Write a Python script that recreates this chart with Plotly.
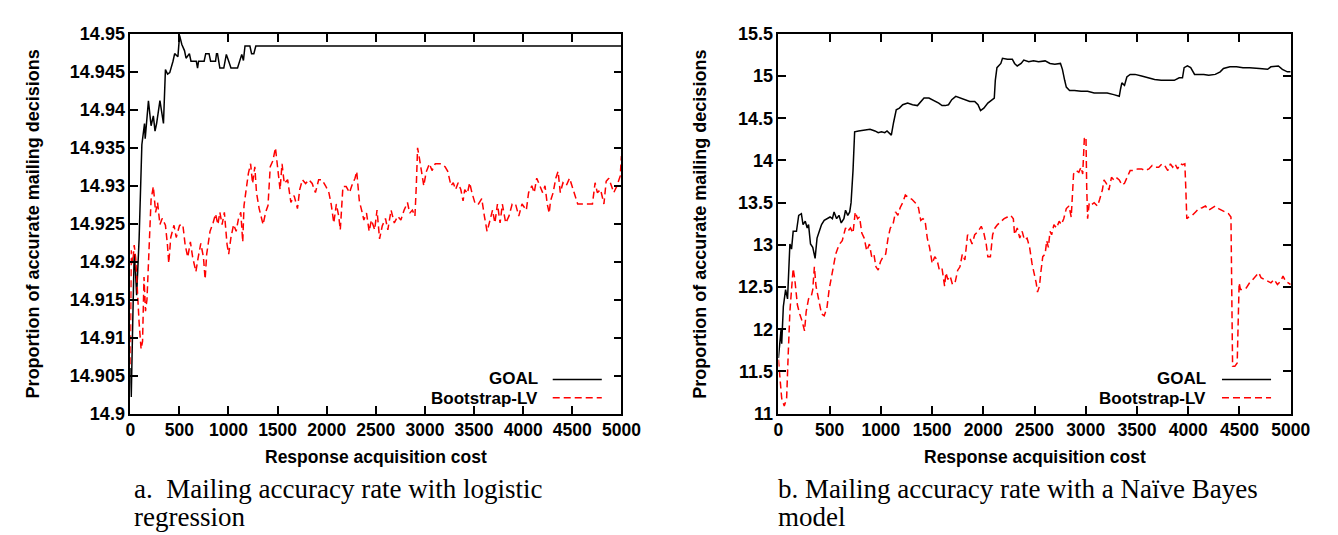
import plotly.graph_objects as go

# ---------------- data ----------------
x_ticks = [0, 500, 1000, 1500, 2000, 2500, 3000, 3500, 4000, 4500, 5000]
x_tick_labels = [str(v) for v in x_ticks]
ya_ticks = [14.9, 14.905, 14.91, 14.915, 14.92, 14.925, 14.93, 14.935, 14.94, 14.945, 14.95]
ya_tick_labels = ["14.9", "14.905", "14.91", "14.915", "14.92", "14.925", "14.93", "14.935", "14.94", "14.945", "14.95"]
yb_ticks = [11, 11.5, 12, 12.5, 13, 13.5, 14, 14.5, 15, 15.5]
yb_tick_labels = ["11", "11.5", "12", "12.5", "13", "13.5", "14", "14.5", "15", "15.5"]

series_names = ["GOAL", "Bootstrap-LV"]
x_title = "Response acquisition cost"
y_title = "Proportion of accurate mailing decisions"
caption_a = ["a.\u00a0 Mailing accuracy rate with logistic", "regression"]
caption_b = ["b. Mailing accuracy rate with a Naïve Bayes", "model"]

goal_a = [(0, 14.906), (10, 14.9022), (25, 14.912), (40, 14.921), (52, 14.919), (65, 14.9156),
          (90, 14.923), (118, 14.9354), (145, 14.9382), (152, 14.9362), (185, 14.9412), (212, 14.9379),
          (235, 14.9392), (252, 14.9372), (268, 14.9382), (302, 14.9412), (338, 14.9382), (350, 14.944),
          (358, 14.9453), (380, 14.9447), (402, 14.9449), (435, 14.9464), (452, 14.9474), (485, 14.947),
          (502, 14.9498), (525, 14.9486), (552, 14.9478), (568, 14.9468), (602, 14.9474), (618, 14.9464),
          (672, 14.9464), (685, 14.9455), (695, 14.9464), (752, 14.9464), (768, 14.9474), (802, 14.9474),
          (818, 14.9464), (868, 14.9464), (878, 14.9474), (888, 14.9474), (898, 14.9464), (912, 14.9455),
          (952, 14.9455), (978, 14.9473), (1002, 14.9464), (1025, 14.9455), (1092, 14.9455), (1112, 14.9464),
          (1135, 14.9473), (1152, 14.9465), (1168, 14.9484), (1218, 14.9484), (1235, 14.9474), (1258, 14.9474),
          (1278, 14.9484), (5000, 14.9484)]

boot_a = [(0, 14.9065), (10, 14.9215), (25, 14.9198), (40, 14.9222), (55, 14.9205), (70, 14.9165),
          (90, 14.912), (110, 14.9085), (125, 14.9095), (140, 14.918), (155, 14.9135), (170, 14.915),
          (185, 14.9205), (200, 14.926), (212, 14.9282), (235, 14.9299), (258, 14.9265), (278, 14.9278),
          (302, 14.9249), (325, 14.9257), (358, 14.9248), (378, 14.9223), (392, 14.9198), (412, 14.9232),
          (445, 14.9248), (468, 14.9232), (502, 14.9248), (535, 14.9249), (558, 14.9223), (585, 14.9206),
          (612, 14.9226), (635, 14.9206), (668, 14.9187), (692, 14.9206), (718, 14.9224), (745, 14.9206),
          (762, 14.9177), (778, 14.921), (812, 14.924), (845, 14.9252), (868, 14.9263), (892, 14.9249),
          (912, 14.9265), (935, 14.9249), (958, 14.9265), (985, 14.9223), (1002, 14.921), (1025, 14.9232),
          (1052, 14.9249), (1078, 14.924), (1102, 14.9257), (1125, 14.9265), (1145, 14.9226), (1158, 14.9274),
          (1178, 14.9295), (1202, 14.9316), (1225, 14.9329), (1245, 14.9303), (1268, 14.9325), (1285, 14.9291),
          (1312, 14.927), (1335, 14.9257), (1352, 14.9249), (1378, 14.9265), (1402, 14.9274), (1425, 14.9325),
          (1452, 14.9333), (1478, 14.935), (1502, 14.9325), (1525, 14.9295), (1545, 14.9329), (1568, 14.9303),
          (1602, 14.9308), (1635, 14.9278), (1668, 14.9287), (1702, 14.927), (1725, 14.9295), (1752, 14.9308),
          (1785, 14.9303), (1818, 14.9308), (1852, 14.9303), (1885, 14.9291), (1918, 14.9308), (1952, 14.9308),
          (1988, 14.93), (2022, 14.9291), (2045, 14.9276), (2072, 14.9251), (2098, 14.9276), (2122, 14.926),
          (2138, 14.9242), (2165, 14.9299), (2198, 14.9299), (2232, 14.9291), (2255, 14.93), (2288, 14.931),
          (2305, 14.9319), (2332, 14.928), (2355, 14.9268), (2378, 14.9255), (2405, 14.9264), (2432, 14.924),
          (2455, 14.9255), (2488, 14.9242), (2512, 14.9268), (2538, 14.923), (2565, 14.9247), (2598, 14.9257),
          (2622, 14.9242), (2655, 14.9268), (2688, 14.9251), (2722, 14.926), (2755, 14.9255), (2788, 14.9268),
          (2822, 14.9278), (2845, 14.9264), (2872, 14.9268), (2898, 14.926), (2912, 14.93), (2925, 14.935),
          (2945, 14.9335), (2972, 14.931), (2988, 14.93), (3012, 14.9318), (3045, 14.9329), (3072, 14.932),
          (3105, 14.9329), (3155, 14.9329), (3205, 14.9325), (3232, 14.9319), (3245, 14.931), (3265, 14.93),
          (3288, 14.9304), (3312, 14.9295), (3338, 14.9304), (3365, 14.9295), (3388, 14.928), (3405, 14.9295),
          (3432, 14.929), (3455, 14.9304), (3478, 14.9291), (3512, 14.9276), (3545, 14.9276), (3578, 14.9283),
          (3605, 14.926), (3632, 14.924), (3655, 14.9251), (3688, 14.9268), (3712, 14.9251), (3738, 14.9276),
          (3765, 14.9251), (3788, 14.9276), (3822, 14.9251), (3855, 14.926), (3888, 14.9276), (3922, 14.9276),
          (3955, 14.926), (3988, 14.9276), (4032, 14.9268), (4055, 14.9291), (4088, 14.93), (4112, 14.9291),
          (4138, 14.931), (4172, 14.93), (4198, 14.9291), (4222, 14.93), (4245, 14.9276), (4265, 14.9264),
          (4278, 14.928), (4305, 14.9291), (4332, 14.931), (4355, 14.9319), (4378, 14.9291), (4405, 14.9304),
          (4438, 14.93), (4472, 14.931), (4498, 14.93), (4522, 14.9291), (4555, 14.9276), (4605, 14.9276),
          (4655, 14.9276), (4705, 14.9276), (4732, 14.9304), (4755, 14.9291), (4788, 14.9295), (4822, 14.9276),
          (4845, 14.9306), (4872, 14.931), (4898, 14.93), (4922, 14.9291), (4955, 14.93), (4988, 14.9313),
          (5000, 14.9339)]

goal_b = [(0, 11.66), (16, 11.87), (26, 12.0), (32, 11.83), (48, 12.27), (70, 12.47), (89, 12.36),
          (112, 13.01), (128, 12.95), (144, 13.16), (176, 13.16), (198, 13.35), (224, 13.37), (240, 13.24),
          (262, 13.28), (281, 13.2), (294, 13.24), (313, 13.01), (335, 12.97), (358, 12.84), (377, 13.08),
          (399, 13.16), (421, 13.24), (447, 13.29), (479, 13.31), (504, 13.33), (527, 13.31), (543, 13.39),
          (568, 13.31), (591, 13.35), (613, 13.26), (639, 13.31), (655, 13.41), (677, 13.35), (696, 13.39),
          (709, 13.5), (728, 13.88), (744, 14.34), (782, 14.35), (830, 14.36), (894, 14.37), (942, 14.35),
          (974, 14.33), (1006, 14.34), (1038, 14.33), (1060, 14.35), (1086, 14.32), (1102, 14.30),
          (1124, 14.45), (1150, 14.6), (1181, 14.62), (1213, 14.66), (1261, 14.68), (1309, 14.66),
          (1357, 14.65), (1389, 14.69), (1421, 14.74), (1469, 14.74), (1517, 14.71), (1565, 14.68),
          (1597, 14.65), (1629, 14.65), (1660, 14.66), (1692, 14.72), (1731, 14.76), (1772, 14.74),
          (1820, 14.72), (1868, 14.70), (1916, 14.70), (1948, 14.66), (1973, 14.59), (2005, 14.62),
          (2044, 14.68), (2091, 14.72), (2107, 14.74), (2117, 14.95), (2133, 15.10), (2171, 15.15),
          (2187, 15.21), (2235, 15.20), (2283, 15.20), (2305, 15.15), (2331, 15.12), (2369, 15.15),
          (2395, 15.19), (2443, 15.17), (2490, 15.18), (2539, 15.17), (2603, 15.18), (2651, 15.15),
          (2698, 15.14), (2753, 15.15), (2772, 15.08), (2794, 14.95), (2810, 14.87), (2842, 14.83),
          (2890, 14.83), (2954, 14.82), (3018, 14.82), (3082, 14.80), (3145, 14.80), (3209, 14.80),
          (3273, 14.78), (3327, 14.76), (3340, 14.85), (3352, 14.92), (3378, 14.89), (3401, 14.99),
          (3433, 15.02), (3481, 15.02), (3545, 15.0), (3609, 14.98), (3672, 14.96), (3736, 14.95),
          (3800, 14.95), (3864, 14.95), (3912, 14.98), (3944, 14.98), (3960, 15.1), (3992, 15.12),
          (4024, 15.10), (4062, 15.02), (4104, 15.02), (4152, 15.02), (4200, 15.01), (4264, 15.02),
          (4312, 15.05), (4344, 15.09), (4407, 15.11), (4471, 15.11), (4535, 15.10), (4599, 15.10),
          (4695, 15.09), (4775, 15.08), (4807, 15.11), (4880, 15.12), (4919, 15.08), (4967, 15.05),
          (5000, 15.05)]

boot_b = [(0, 11.64), (16, 11.4), (32, 11.18), (57, 11.09), (80, 11.18), (96, 11.72), (112, 12.21),
          (128, 12.47), (144, 12.72), (160, 12.59), (185, 12.29), (208, 12.18), (230, 12.10), (255, 11.98),
          (271, 12.21), (294, 12.36), (319, 12.38), (335, 12.47), (351, 12.74), (367, 12.51), (383, 12.40),
          (399, 12.32), (421, 12.18), (447, 12.16), (473, 12.25), (495, 12.47), (527, 12.70), (559, 12.89),
          (591, 13.0), (623, 13.05), (655, 13.2), (677, 13.16), (703, 13.2), (728, 13.14), (750, 13.39),
          (773, 13.31), (792, 13.33), (814, 13.14), (837, 13.08), (862, 12.93), (888, 13.01), (910, 12.86),
          (932, 12.89), (952, 12.74), (974, 12.70), (996, 12.80), (1022, 12.86), (1047, 12.89), (1070, 13.08),
          (1092, 13.2), (1118, 13.24), (1143, 13.39), (1166, 13.35), (1188, 13.44), (1213, 13.50),
          (1239, 13.59), (1271, 13.56), (1303, 13.54), (1335, 13.50), (1367, 13.44), (1389, 13.29),
          (1411, 13.31), (1431, 13.29), (1453, 13.08), (1475, 12.97), (1501, 12.78), (1526, 12.86),
          (1549, 12.82), (1571, 12.70), (1597, 12.72), (1622, 12.51), (1635, 12.67), (1654, 12.59),
          (1676, 12.63), (1699, 12.53), (1724, 12.55), (1750, 12.70), (1772, 12.74), (1795, 12.89),
          (1820, 12.82), (1846, 13.12), (1868, 13.08), (1890, 13.01), (1916, 13.12), (1948, 13.16),
          (1980, 13.22), (2005, 13.14), (2028, 13.01), (2044, 12.86), (2069, 12.86), (2091, 13.12),
          (2114, 13.2), (2139, 13.24), (2171, 13.28), (2203, 13.31), (2235, 13.33), (2267, 13.35),
          (2293, 13.31), (2305, 13.12), (2331, 13.2), (2356, 13.08), (2379, 13.16), (2401, 13.06),
          (2427, 13.08), (2452, 12.97), (2475, 12.78), (2491, 12.70), (2516, 12.55), (2529, 12.44),
          (2548, 12.51), (2561, 12.67), (2580, 12.86), (2603, 12.89), (2619, 13.05), (2635, 12.97),
          (2651, 13.16), (2667, 13.12), (2689, 13.24), (2715, 13.2), (2740, 13.28), (2762, 13.24),
          (2785, 13.31), (2810, 13.43), (2836, 13.46), (2858, 13.33), (2868, 13.62), (2881, 13.84),
          (2906, 13.88), (2932, 13.86), (2954, 13.92), (2970, 13.84), (2986, 14.26), (3002, 14.28),
          (3009, 13.69), (3018, 13.31), (3034, 13.50), (3060, 13.48), (3082, 13.50), (3114, 13.46),
          (3136, 13.54), (3162, 13.65), (3178, 13.77), (3200, 13.73), (3226, 13.65), (3251, 13.80),
          (3273, 13.77), (3296, 13.80), (3327, 13.77), (3353, 13.71), (3378, 13.73), (3401, 13.80),
          (3433, 13.88), (3465, 13.88), (3507, 13.90), (3545, 13.90), (3577, 13.88), (3616, 13.90),
          (3648, 13.94), (3680, 13.92), (3712, 13.92), (3743, 13.96), (3775, 13.93), (3801, 13.88),
          (3826, 13.96), (3848, 13.92), (3871, 13.96), (3896, 13.90), (3922, 13.96), (3944, 13.95),
          (3967, 13.96), (3977, 13.65), (3986, 13.31), (4008, 13.33), (4040, 13.35), (4072, 13.39),
          (4104, 13.43), (4136, 13.44), (4168, 13.46), (4200, 13.41), (4232, 13.44), (4264, 13.46),
          (4296, 13.43), (4328, 13.41), (4360, 13.39), (4392, 13.37), (4417, 13.33), (4427, 12.47),
          (4433, 11.56), (4455, 11.56), (4478, 11.60), (4488, 12.10), (4497, 12.55), (4510, 12.47),
          (4535, 12.47), (4567, 12.49), (4599, 12.55), (4631, 12.59), (4663, 12.63), (4689, 12.67),
          (4711, 12.61), (4743, 12.59), (4775, 12.57), (4807, 12.55), (4839, 12.59), (4871, 12.53),
          (4903, 12.57), (4925, 12.63), (4951, 12.57), (4977, 12.55), (5000, 12.53)]

# ---------------- figure ----------------
W, H = 1338, 535
BLACK = "#000000"
RED = "#ff0000"
SANS = "Liberation Sans, Arial, sans-serif"
SERIF = "Liberation Serif, Times New Roman, serif"
DASH = "7px,4px"

fig = go.Figure()

def add(series, xa, ya, color, dash):
    xs = [p[0] for p in series]
    ys = [p[1] for p in series]
    fig.add_trace(go.Scatter(x=xs, y=ys, mode="lines", xaxis=xa, yaxis=ya,
                             line=dict(color=color, width=1.5, dash=dash),
                             showlegend=False, hoverinfo="skip"))

add(goal_a, "x", "y", BLACK, "solid")
add(boot_a, "x", "y", RED, DASH)
add(goal_b, "x2", "y2", BLACK, "solid")
add(boot_b, "x2", "y2", RED, DASH)

ydom = [1 - 411 / H, 1 - 16.5 / H]
xdom_a = [119.5 / W, 620 / W]
xdom_b = [780 / W, 1302 / W]

ytickfont = dict(family=SANS, size=18, color=BLACK, weight="bold")
xtickfont = dict(family=SANS, size=17.5, color=BLACK, weight="bold")
common_axis = dict(showgrid=False, zeroline=False, showline=True, linecolor=BLACK, linewidth=1.5,
                   mirror="ticks", ticks="inside", ticklen=8, tickwidth=1.5, tickcolor=BLACK)

fig.update_layout(
    width=W, height=H, margin=dict(l=0, r=0, t=0, b=0),
    paper_bgcolor="white", plot_bgcolor="white",
    xaxis=dict(domain=xdom_a, range=[0, 5000], tickvals=x_ticks, ticktext=x_tick_labels,
               anchor="y", tickfont=xtickfont, **common_axis),
    yaxis=dict(domain=ydom, range=[14.9, 14.95], tickvals=ya_ticks, ticktext=ya_tick_labels,
               anchor="x", tickfont=ytickfont, **common_axis),
    xaxis2=dict(domain=xdom_b, range=[0, 5000], tickvals=x_ticks, ticktext=x_tick_labels,
                anchor="y2", tickfont=xtickfont, **common_axis),
    yaxis2=dict(domain=ydom, range=[11, 15.5], tickvals=yb_ticks, ticktext=yb_tick_labels,
                anchor="x2", tickfont=ytickfont, **common_axis),
)

annotations = []
xtitlefont = dict(family=SANS, size=17.5, color=BLACK, weight="bold")
ytitlefont = dict(family=SANS, size=18, color=BLACK, weight="bold")
for xd, ytx in [(xdom_a, 20 / W), (xdom_b, 700 / W)]:
    annotations.append(dict(text=x_title, x=(xd[0] + xd[1]) / 2, y=1 - 456 / H, xref="paper", yref="paper",
                            showarrow=False, font=xtitlefont, xanchor="center", yanchor="middle"))
    annotations.append(dict(text=y_title, x=ytx, y=(ydom[0] + ydom[1]) / 2, xref="paper", yref="paper",
                            showarrow=False, font=ytitlefont, textangle=-90, xanchor="center", yanchor="middle"))

capfont = dict(family=SERIF, size=27, color=BLACK)
for lines, x0 in [(caption_a, 121), (caption_b, 778)]:
    for i, line in enumerate(lines):
        annotations.append(dict(text=line, x=x0 / W, y=1 - (489 + 29.5 * i) / H, xref="paper", yref="paper",
                                showarrow=False, font=capfont, xanchor="left", yanchor="middle", align="left"))

# legends (text right-aligned, sample line on the right, as in the original)
shapes = []
legfont = dict(family=SANS, size=17, color=BLACK, weight="bold")
for text_end, l0, l1 in [(537, 550, 600), (1218, 1232, 1282)]:
    for name, ytext, yline, color, dash in [(series_names[0], 374, 375.5, BLACK, "solid"),
                                            (series_names[1], 395, 394.5, RED, DASH)]:
        annotations.append(dict(text=name, x=text_end / W, y=1 - ytext / H, xref="paper", yref="paper",
                                showarrow=False, font=legfont, xanchor="right", yanchor="middle"))
        shapes.append(dict(type="line", xref="paper", yref="paper", x0=l0 / W, x1=l1 / W,
                           y0=1 - yline / H, y1=1 - yline / H,
                           line=dict(color=color, width=1.5, dash=dash)))

fig.update_layout(annotations=annotations, shapes=shapes)
fig.write_html("out.html")
